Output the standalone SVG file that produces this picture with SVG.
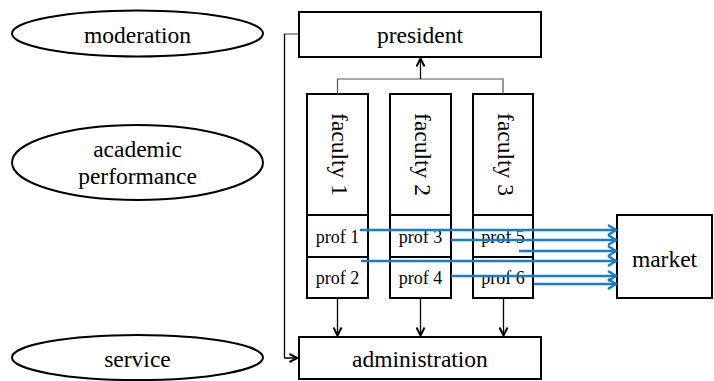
<svg xmlns="http://www.w3.org/2000/svg" width="714" height="381" viewBox="0 0 714 381">
<defs>
<style>
.box{fill:#fff;stroke:#000;stroke-width:2}
.ell{fill:#fff;stroke:#000;stroke-width:2}
text{font-family:'Liberation Serif','Times New Roman','DejaVu Serif',serif;fill:#000;text-anchor:middle}
.t{font-size:23.5px}
.p{font-size:18px}
.c{fill:none;stroke:#000;stroke-width:1.3}
.g{fill:none;stroke:#555;stroke-width:1.2}
.b{fill:none;stroke:#1a7cc8;stroke-width:2.6}
</style>
<marker id="ah" viewBox="0 0 10 10" refX="9" refY="5" markerWidth="10" markerHeight="10" markerUnits="userSpaceOnUse" orient="auto">
<path d="M1,1 L9,5 L1,9" fill="none" stroke="#000" stroke-width="2"/>
</marker>
<marker id="bh" viewBox="0 0 10 12" refX="9" refY="6" markerWidth="10" markerHeight="12" markerUnits="userSpaceOnUse" orient="auto">
<path d="M1,1 L9,6 L1,11" fill="none" stroke="#1a7cc8" stroke-width="2.4"/>
</marker>
</defs>
<rect width="714" height="381" fill="#fff"/>
<g id="moderation"><ellipse class="ell" cx="137.5" cy="33.5" rx="125.5" ry="23"/><text class="t" x="137.5" y="43">moderation</text></g>
<g id="academic"><ellipse class="ell" cx="137.5" cy="162.5" rx="125.5" ry="37.5"/><text class="t" x="137.5" y="157">academic</text><text class="t" x="137.5" y="184">performance</text></g>
<g id="service"><ellipse class="ell" cx="137.5" cy="357.5" rx="125.5" ry="22.5"/><text class="t" x="137.5" y="367">service</text></g>
<g id="president"><rect class="box" x="299" y="12" width="242" height="45"/><text class="t" x="420" y="43">president</text></g>
<g id="administration"><rect class="box" x="299" y="337" width="242" height="42"/><text class="t" x="420" y="367">administration</text></g>
<g id="market"><rect class="box" x="617" y="215" width="95" height="83"/><text class="t" x="664.5" y="267">market</text></g>
<g id="faculty1"><rect class="box" x="307" y="94" width="61" height="121"/><text class="t" transform="translate(332,154.5) rotate(90)">faculty 1</text></g>
<g id="faculty2"><rect class="box" x="390" y="94" width="61" height="121"/><text class="t" transform="translate(415,154.5) rotate(90)">faculty 2</text></g>
<g id="faculty3"><rect class="box" x="473" y="94" width="60" height="121"/><text class="t" transform="translate(497.5,154.5) rotate(90)">faculty 3</text></g>
<g id="prof1"><rect class="box" x="307" y="215" width="61" height="42"/><text class="p" x="337.5" y="243">prof 1</text></g>
<g id="prof2"><rect class="box" x="307" y="257" width="61" height="41"/><text class="p" x="337.5" y="284">prof 2</text></g>
<g id="prof3"><rect class="box" x="390" y="215" width="61" height="42"/><text class="p" x="420.5" y="243">prof 3</text></g>
<g id="prof4"><rect class="box" x="390" y="257" width="61" height="41"/><text class="p" x="420.5" y="284">prof 4</text></g>
<g id="prof5"><rect class="box" x="473" y="215" width="60" height="42"/><text class="p" x="503" y="243">prof 5</text></g>
<g id="prof6"><rect class="box" x="473" y="257" width="60" height="41"/><text class="p" x="503" y="284">prof 6</text></g>
<g id="connectors">
<path class="g" d="M337.5,94 V79 H503 V94"/>
<path class="c" d="M420.5,79 V58.5" marker-end="url(#ah)"/>
<path class="g" d="M298,34 H284.5"/>
<path class="c" d="M284.5,34 V358 H297.5" marker-end="url(#ah)"/>
<path class="c" d="M337.5,299 V335.5" marker-end="url(#ah)"/>
<path class="c" d="M420.5,299 V335.5" marker-end="url(#ah)"/>
<path class="c" d="M503.5,299 V335.5" marker-end="url(#ah)"/>
<path class="b" d="M360,230 H616" marker-end="url(#bh)"/>
<path class="b" d="M451,240 H616" marker-end="url(#bh)"/>
<path class="b" d="M519,251 H616" marker-end="url(#bh)"/>
<path class="b" d="M361,261 H616" marker-end="url(#bh)"/>
<path class="b" d="M451,276 H616" marker-end="url(#bh)"/>
<path class="b" d="M534,284 H616" marker-end="url(#bh)"/>
</g>
</svg>
